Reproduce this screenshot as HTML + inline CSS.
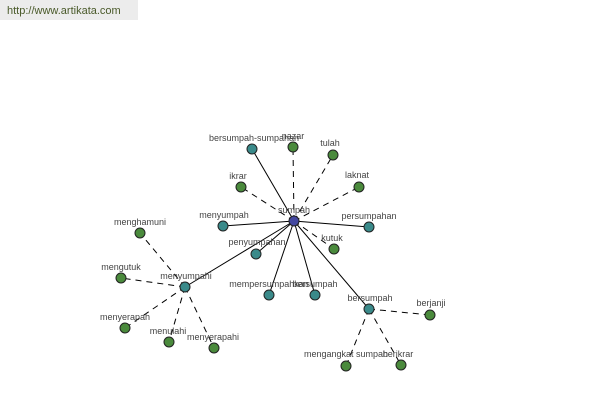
<!DOCTYPE html>
<html><head><meta charset="utf-8"><style>
body{margin:0;width:600px;height:400px;background:#fff;overflow:hidden;position:relative;font-family:"Liberation Sans",sans-serif}
#hdr{position:absolute;left:0;top:0;width:138px;height:20px;background:#ececec;color:#4a5a2a;font-size:11px;line-height:22px;padding-left:7px;box-sizing:border-box}
</style></head><body>
<div id="hdr">http://www.artikata.com</div>
<svg width="600" height="400" style="position:absolute;left:0;top:0" font-family="Liberation Sans, sans-serif" font-size="9" fill="#444">
<g stroke="#000" stroke-width="1">
<line x1="294" y1="221" x2="252" y2="149"/>
<line x1="294" y1="221" x2="223" y2="226"/>
<line x1="294" y1="221" x2="369" y2="227"/>
<line x1="294" y1="221" x2="256" y2="254"/>
<line x1="294" y1="221" x2="185" y2="287"/>
<line x1="294" y1="221" x2="269" y2="295"/>
<line x1="294" y1="221" x2="315" y2="295"/>
<line x1="294" y1="221" x2="369" y2="309"/>
</g>
<g stroke="#000" stroke-width="1" stroke-dasharray="6,5">
<line x1="294" y1="221" x2="293" y2="147"/>
<line x1="294" y1="221" x2="333" y2="155"/>
<line x1="294" y1="221" x2="241" y2="187"/>
<line x1="294" y1="221" x2="359" y2="187"/>
<line x1="294" y1="221" x2="334" y2="249"/>
<line x1="185" y1="287" x2="140" y2="233"/>
<line x1="185" y1="287" x2="121" y2="278"/>
<line x1="185" y1="287" x2="125" y2="328"/>
<line x1="185" y1="287" x2="169" y2="342"/>
<line x1="185" y1="287" x2="214" y2="348"/>
<line x1="369" y1="309" x2="430" y2="315"/>
<line x1="369" y1="309" x2="346" y2="366"/>
<line x1="369" y1="309" x2="401" y2="365"/>
</g>
<g stroke="#222" stroke-width="1" fill="#3a8a8a">
<circle cx="252" cy="149" r="5"/><circle cx="223" cy="226" r="5"/><circle cx="369" cy="227" r="5"/>
<circle cx="256" cy="254" r="5"/><circle cx="185" cy="287" r="5"/><circle cx="269" cy="295" r="5"/>
<circle cx="315" cy="295" r="5"/><circle cx="369" cy="309" r="5"/>
</g>
<g stroke="#222" stroke-width="1" fill="#4a8a3c">
<circle cx="293" cy="147" r="5"/><circle cx="333" cy="155" r="5"/><circle cx="241" cy="187" r="5"/>
<circle cx="359" cy="187" r="5"/><circle cx="334" cy="249" r="5"/><circle cx="140" cy="233" r="5"/>
<circle cx="121" cy="278" r="5"/><circle cx="125" cy="328" r="5"/><circle cx="169" cy="342" r="5"/>
<circle cx="214" cy="348" r="5"/><circle cx="430" cy="315" r="5"/><circle cx="346" cy="366" r="5"/>
<circle cx="401" cy="365" r="5"/>
</g>
<circle cx="294" cy="221" r="5" fill="#4448a0" stroke="#222"/>
<g text-anchor="middle">
<text x="294" y="213">sumpah</text>
<text x="254" y="141">bersumpah-sumpahan</text>
<text x="293" y="139">nazar</text>
<text x="330" y="146">tulah</text>
<text x="238" y="179">ikrar</text>
<text x="357" y="178">laknat</text>
<text x="224" y="218">menyumpah</text>
<text x="369" y="219">persumpahan</text>
<text x="257" y="245">penyumpahan</text>
<text x="332" y="241">kutuk</text>
<text x="186" y="279">menyumpahi</text>
<text x="269" y="287">mempersumpahkan</text>
<text x="315" y="287">bersumpah</text>
<text x="370" y="301">bersumpah</text>
<text x="140" y="225">menghamuni</text>
<text x="121" y="270">mengutuk</text>
<text x="125" y="320">menyerapah</text>
<text x="168" y="334">menulahi</text>
<text x="213" y="340">menyerapahi</text>
<text x="431" y="306">berjanji</text>
<text x="346" y="357">mengangkat sumpah</text>
<text x="398" y="357">berikrar</text>
</g>
</svg>
</body></html>
